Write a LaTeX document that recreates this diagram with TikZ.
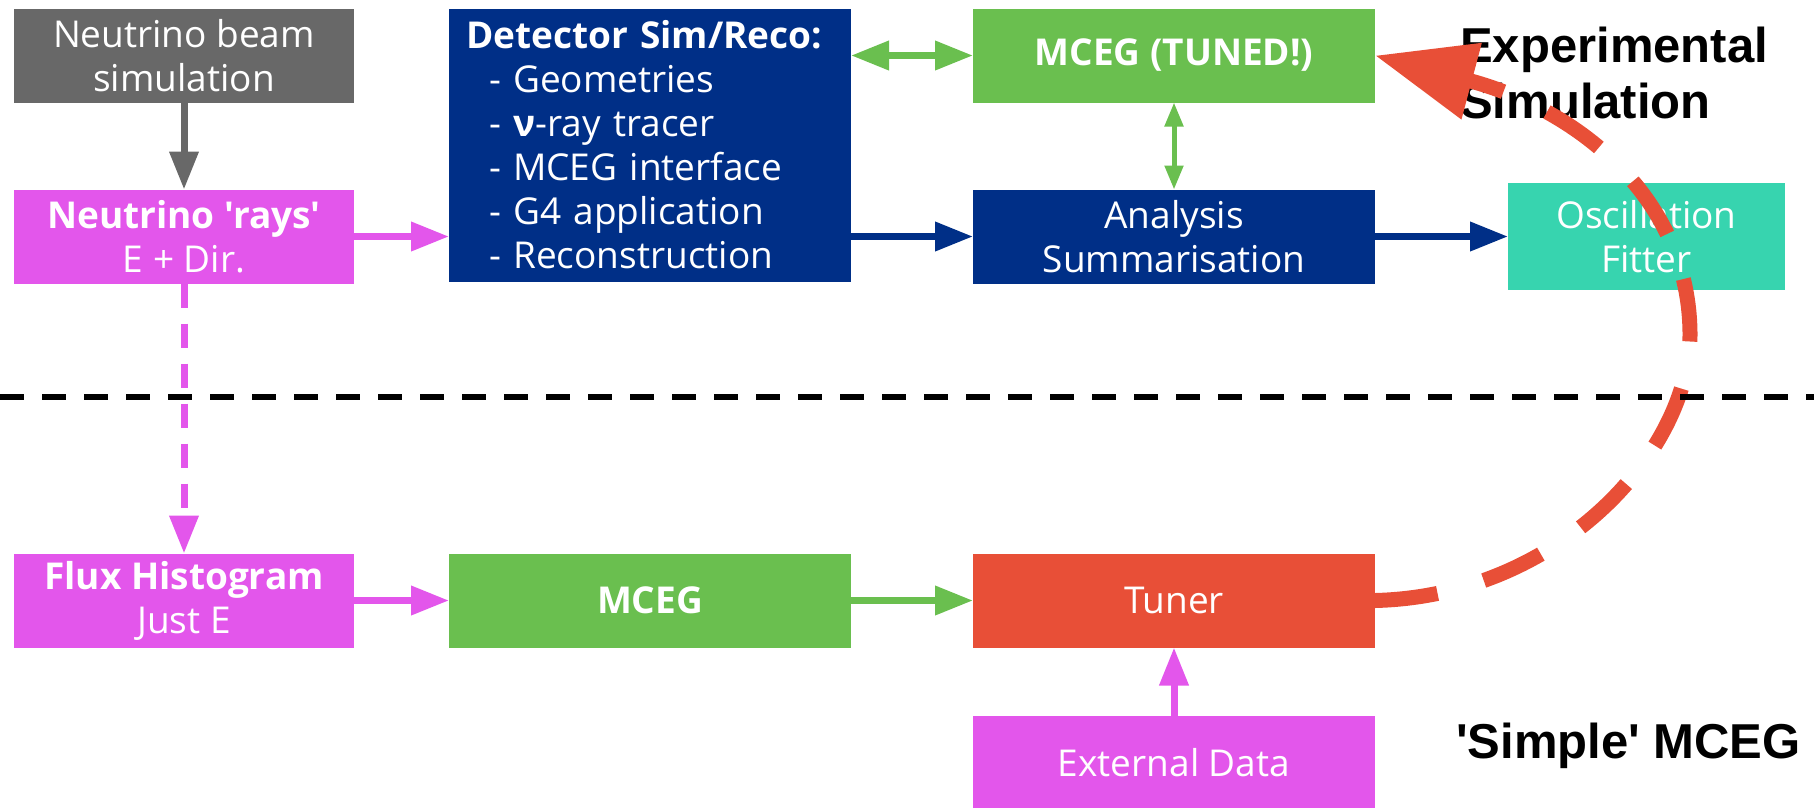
\documentclass[tikz,border=0pt]{standalone}
\usepackage{fontspec}
\usepackage{tikz}
\usetikzlibrary{positioning,arrows.meta}
\newfontfamily\boxfont{Open Sans}[Ligatures=TeXOff]
\newfontfamily\tagfont{Liberation Sans}[Ligatures=TeXOff]
\definecolor{beamgrey}{HTML}{686868}
\definecolor{raymag}{HTML}{E356EB}
\definecolor{detnavy}{HTML}{002F87}
\definecolor{mcgreen}{HTML}{6ABF4F}
\definecolor{fitteal}{HTML}{37D4AF}
\definecolor{tunered}{HTML}{E84F37}
\tikzset{
  box/.style={minimum width=340pt, minimum height=94pt, inner sep=0pt, outer sep=0pt, text=white, align=center, font=\boxfont\fontsize{37}{44}\selectfont},
  wbox/.style={box, minimum width=402pt},
  tag/.style={inner sep=0pt, align=left, font=\tagfont\bfseries\fontsize{49}{56}\selectfont},
  link/.style={line width=7pt, -{Triangle[length=38pt,width=28pt]}},
  twoway/.style={line width=7pt, {Triangle[length=38pt,width=28pt]}-{Triangle[length=38pt,width=28pt]}},
  twowaysmall/.style={line width=5pt, {Triangle[length=24pt,width=18pt]}-{Triangle[length=24pt,width=18pt]}},
  feedback/.style={draw=tunered, line width=15pt, dash pattern=on 63pt off 48pt, -{Triangle[length=100pt,width=75pt]}},
  divider/.style={line width=6pt, dash pattern=on 24pt off 18pt},
}

\begin{document}
\begin{tikzpicture}[x=1pt,y=-1pt]
\useasboundingbox (0,0) rectangle (1814,807);
% experimental simulation chain
\node[box, fill=beamgrey] (beam) at (184,55.5) {Neutrino beam\\simulation};
\node[box, fill=raymag, below=87pt of beam] (rays) {\textbf{Neutrino 'rays'}\\E + Dir.};
\node[wbox, fill=detnavy, minimum height=273pt, inner xsep=17pt, text width=368pt, align=left, right=95pt of beam.north east, anchor=north west] (det) {\textbf{Detector Sim/Reco:}\\
  \hspace*{23pt}- Geometries\\
  \hspace*{23pt}- \textbf{ν}-ray tracer\\
  \hspace*{23pt}- MCEG interface\\
  \hspace*{23pt}- G4 application\\
  \hspace*{23pt}- Reconstruction};
\node[wbox, fill=mcgreen, right=122pt of det.north east, anchor=north west] (tuned) {\textbf{MCEG (TUNED!)}};
\node[wbox, fill=detnavy, below=87pt of tuned] (ana) {Analysis\\Summarisation};
\node[box, fill=fitteal, minimum width=277pt, minimum height=107pt, right=133pt of ana] (osc) {Oscillation\\Fitter};
% simple MCEG chain
\node[box, fill=raymag, below=270pt of rays] (flux) {\textbf{Flux Histogram}\\Just E};
\node[wbox, fill=mcgreen, right=95pt of flux] (mceg) {\textbf{MCEG}};
\node[wbox, fill=tunered, right=122pt of mceg] (tuner) {Tuner};
\node[wbox, fill=raymag, below=68pt of tuner] (ext) {External Data};

\node[tag, anchor=north west] (exptag) at (1460,27) {Experimental\\Simulation};
\node[tag, anchor=base west] (simtag) at (1456,758) {'Simple' MCEG};

\draw[link, draw=beamgrey] (beam) -- (rays);
\draw[link, draw=raymag] (rays.east) -- (rays.east -| det.west);
\draw[link, draw=raymag, dash pattern=on 24pt off 16pt] (rays) -- (flux);
\draw[twoway, draw=mcgreen] (det.east |- tuned.west) -- (tuned.west);
\draw[twowaysmall, draw=mcgreen] (tuned) -- (ana);
\draw[link, draw=detnavy] (det.east |- ana.west) -- (ana.west);
\draw[link, draw=detnavy] (ana) -- (osc);
\draw[link, draw=raymag] (flux) -- (mceg);
\draw[link, draw=mcgreen] (mceg) -- (tuner);
\draw[link, draw=raymag] (ext) -- (tuner);

\draw[feedback] (tuner.east) .. controls (1560,596) and (1690,450) .. (1690,335)
  .. controls (1690,200) and (1580,110) .. (tuned.east);
\draw[divider] (0,397) -- (1814,397);
\end{tikzpicture}
\end{document}
